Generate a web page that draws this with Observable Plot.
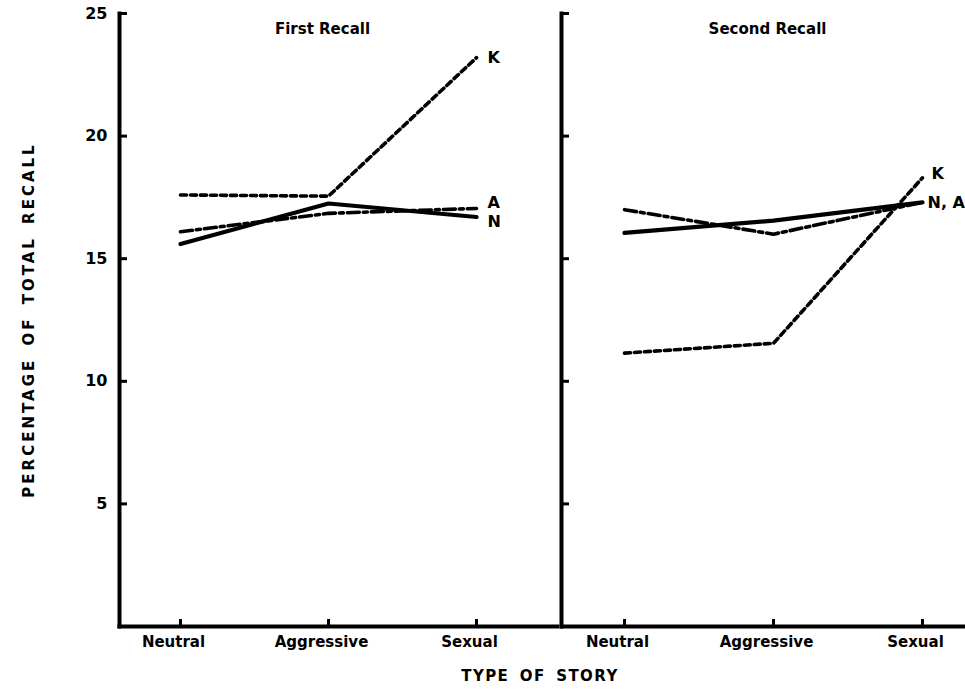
<!DOCTYPE html>
<html>
<head>
<meta charset="utf-8">
<script src="https://cdn.jsdelivr.net/npm/d3@7"></script>
<script src="https://cdn.jsdelivr.net/npm/@observablehq/plot@0.6"></script>
<style>
  body { margin: 0; background: #fff; }
  #chart { position: relative; width: 965px; height: 693px; overflow: hidden; background: #fff;
           font-family: "DejaVu Sans", sans-serif; color: #000; }
  #left { position: absolute; left: 0; top: 0; }
  #right { position: absolute; left: 559px; top: 0; }
  #xtitle { position: absolute; left: 0; width: 1080px; top: 667px; text-align: center;
            font-weight: bold; font-size: 15px; letter-spacing: 1.4px; word-spacing: 4px; }
  g[aria-label="y-axis label"] text { font-size: 15px; letter-spacing: 3px; word-spacing: 4px; }
</style>
</head>
<body>
<div id="chart">
  <div id="left"></div>
  <div id="right"></div>
  <div id="xtitle">TYPE OF STORY</div>
</div>
<script>
// ---- data ----
const stories = ["Neutral", "Aggressive", "Sexual"];
const groups = ["K", "A", "N"];
const panelTitles = ["First Recall", "Second Recall"];
const yTicks = [5, 10, 15, 20, 25];
const yLabel = "PERCENTAGE OF TOTAL RECALL";

const firstK = [17.6, 17.55, 23.2];
const firstA = [16.1, 16.85, 17.05];
const firstN = [15.6, 17.25, 16.7];

const secondK = [11.15, 11.55, 18.3];
const secondA = [17.0, 16.0, 17.3];
const secondN = [16.05, 16.55, 17.3];

const firstEndLabels = ["K", "A", "N"];
const secondEndLabels = ["K", "N, A"];

// ---- build tables ----
function rows(vals, group) {
  return stories.map((s, i) => ({group, story: s, value: vals[i]}));
}
const first = [...rows(firstK, "K"), ...rows(firstA, "A"), ...rows(firstN, "N")];
const second = [...rows(secondK, "K"), ...rows(secondA, "A"), ...rows(secondN, "N")];

const dashes = {K: "6 4", A: "12 4 4 4", N: "none"};
const style = {fontFamily: "DejaVu Sans, sans-serif", fontWeight: "bold", fontSize: "15px",
               background: "white", color: "black", overflow: "visible"};

function lines(data) {
  return groups.map(g => Plot.line(data.filter(d => d.group === g), {
    x: "story", y: "value",
    stroke: "black",
    strokeWidth: g === "N" ? 4.2 : 3.6,
    strokeDasharray: dashes[g],
    strokeLinejoin: "round"
  }));
}
function endPoint(data, g) {
  return data.filter(d => d.group === g && d.story === "Sexual");
}
function endLabel(data, g, text, dx, dy) {
  return Plot.text(endPoint(data, g), {
    x: "story", y: "value", text: () => text,
    textAnchor: "start", dx, dy, fontSize: 16, fontWeight: "bold"
  });
}
function commonMarks(title, data) {
  return [
    Plot.frame({anchor: "left", strokeWidth: 4}),
    Plot.frame({anchor: "bottom", strokeWidth: 4}),
    Plot.axisY(yTicks, {tickSize: 8, dx: 8, tickFormat: () => "", strokeWidth: 3, label: null}),
    Plot.axisX(stories, {tickSize: 7, dy: -7, tickFormat: () => "", strokeWidth: 3, label: null}),
    Plot.axisX(stories, {tickSize: 0, tickPadding: 10, dx: -7, label: null, fontSize: 15,
                         fontWeight: "bold", letterSpacing: "2.2px"}),
    ...lines(data),
    Plot.text([{story: "Aggressive", title}], {
      x: "story", text: "title", frameAnchor: "top", dy: 10, dx: -6,
      fontSize: 15, fontWeight: "bold", letterSpacing: "2px"
    })
  ];
}

const left = Plot.plot({
  width: 563, height: 693,
  marginLeft: 119, marginRight: 2, marginTop: 13, marginBottom: 67,
  x: {type: "point", domain: stories, padding: 0.49, align: 0.42},
  y: {domain: [0, 25]},
  style,
  marks: [
    ...commonMarks(panelTitles[0], first),
    Plot.axisY(yTicks, {tickSize: 0, tickPadding: 12, fontSize: 16, fontWeight: "bold",
                        label: yLabel, labelAnchor: "center", labelOffset: 96, labelArrow: "none"}),
    endLabel(first, "K", firstEndLabels[0], 11, 0),
    endLabel(first, "A", firstEndLabels[1], 11, -6),
    endLabel(first, "N", firstEndLabels[2], 11, 5)
  ]
});

const right = Plot.plot({
  width: 406, height: 693,
  marginLeft: 2, marginRight: 0, marginTop: 13, marginBottom: 67,
  x: {type: "point", domain: stories, padding: 0.351, align: 0.59},
  y: {domain: [0, 25]},
  style,
  marks: [
    ...commonMarks(panelTitles[1], second),
    endLabel(second, "K", secondEndLabels[0], 9, -4),
    endLabel(second, "N", secondEndLabels[1], 5, 1)
  ]
});

document.getElementById("left").appendChild(left);
document.getElementById("right").appendChild(right);
</script>
</body>
</html>
